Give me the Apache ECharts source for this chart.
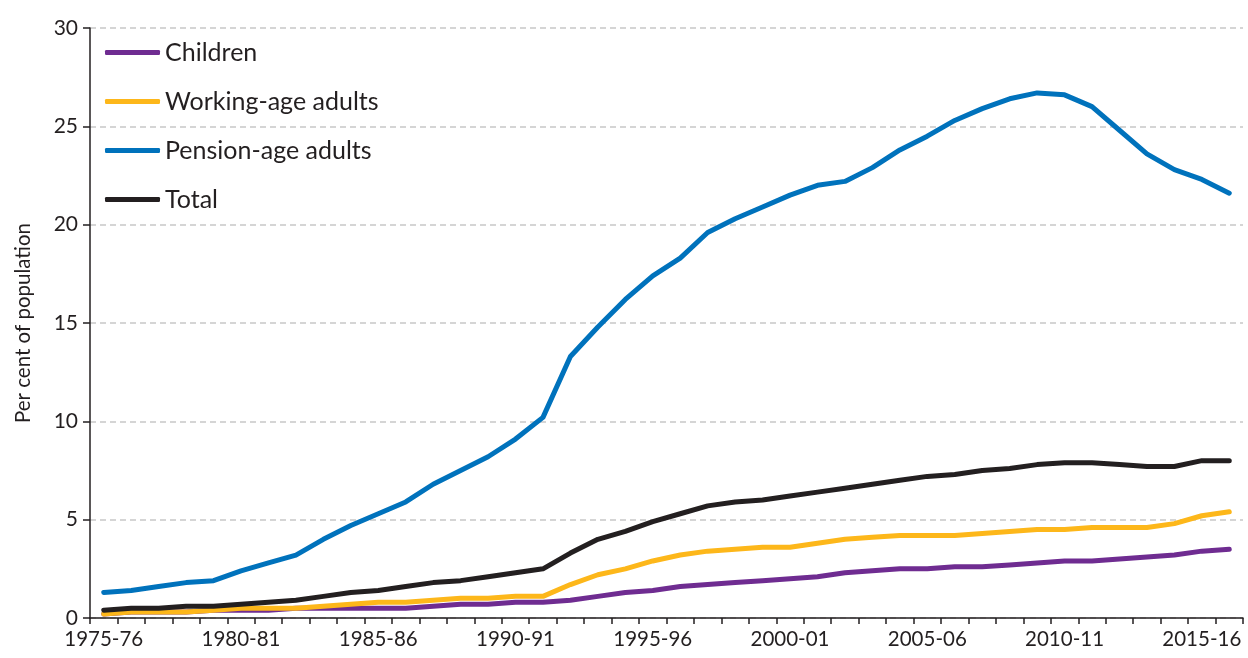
<!DOCTYPE html>
<html>
<head>
<meta charset="utf-8">
<script src="https://cdn.jsdelivr.net/npm/echarts@6/dist/echarts.min.js"></script>
<style>html,body{margin:0;padding:0;background:#fff}#c{width:1248px;height:658px}</style>
</head>
<body>
<div id="c"></div>
<script>
const years = [];
for (let y = 1975; y <= 2016; y++) years.push(y + '-' + String((y + 1) % 100).padStart(2, '0'));

const children = [0.2,0.3,0.3,0.3,0.4,0.4,0.4,0.5,0.5,0.5,0.5,0.5,0.6,0.7,0.7,0.8,0.8,0.9,1.1,1.3,1.4,1.6,1.7,1.8,1.9,2.0,2.1,2.3,2.4,2.5,2.5,2.6,2.6,2.7,2.8,2.9,2.9,3.0,3.1,3.2,3.4,3.5];
const working = [0.2,0.3,0.3,0.3,0.4,0.5,0.5,0.5,0.6,0.7,0.8,0.8,0.9,1.0,1.0,1.1,1.1,1.7,2.2,2.5,2.9,3.2,3.4,3.5,3.6,3.6,3.8,4.0,4.1,4.2,4.2,4.2,4.3,4.4,4.5,4.5,4.6,4.6,4.6,4.8,5.2,5.4];
const pension = [1.3,1.4,1.6,1.8,1.9,2.4,2.8,3.2,4.0,4.7,5.3,5.9,6.8,7.5,8.2,9.1,10.2,13.3,14.8,16.2,17.4,18.3,19.6,20.3,20.9,21.5,22.0,22.2,22.9,23.8,24.5,25.3,25.9,26.4,26.7,26.6,26.0,24.8,23.6,22.8,22.3,21.6];
const total = [0.4,0.5,0.5,0.6,0.6,0.7,0.8,0.9,1.1,1.3,1.4,1.6,1.8,1.9,2.1,2.3,2.5,3.3,4.0,4.4,4.9,5.3,5.7,5.9,6.0,6.2,6.4,6.6,6.8,7.0,7.2,7.3,7.5,7.6,7.8,7.9,7.9,7.8,7.7,7.7,8.0,8.0];
const yTicks = [0, 5, 10, 15, 20, 25, 30];

const FONT = 'Lato';
const chart = echarts.init(document.getElementById('c'), null, {renderer: 'canvas'});
function mk(name, data, color) {
  return {name, type: 'line', data, showSymbol: false, symbol: 'none', smooth: false,
    lineStyle: {color, width: 5, cap: 'round', join: 'round'}, itemStyle: {color}, z: 3};
}
chart.setOption({
  animation: false,
  textStyle: {fontFamily: FONT},
  grid: {left: 90, right: 5, top: 28, bottom: 40, containLabel: false},
  legend: {
    orient: 'vertical', left: 100, top: 35, itemWidth: 55, itemHeight: 5, itemGap: 24,
    icon: 'roundRect',
    textStyle: {fontFamily: FONT, fontSize: 25, color: '#231F20', lineHeight: 25},
    data: ['Children', 'Working-age adults', 'Pension-age adults', 'Total']
  },
  xAxis: {
    type: 'category', data: years, boundaryGap: true,
    axisLine: {lineStyle: {color: '#231F20', width: 1.5}},
    axisTick: {show: true, interval: 0, length: 6, lineStyle: {color: '#231F20', width: 1.5}},
    axisLabel: {interval: 4, fontSize: 20.5, color: '#231F20', margin: 11, fontFamily: FONT},
    splitLine: {show: false}
  },
  yAxis: {
    type: 'value', min: 0, max: 30, interval: 5,
    name: 'Per cent of population', nameLocation: 'middle', nameGap: 56, nameRotate: 90,
    nameTextStyle: {fontSize: 20.5, color: '#231F20', fontFamily: FONT},
    axisLine: {show: true, lineStyle: {color: '#231F20', width: 1.5}},
    axisTick: {show: true, length: 7, lineStyle: {color: '#231F20', width: 1.5}},
    axisLabel: {fontSize: 21, color: '#231F20', margin: 12, fontFamily: FONT,
      formatter: v => yTicks.includes(v) ? String(v) : ''},
    splitLine: {show: true, lineStyle: {color: '#C8C8C8', type: [6, 4], width: 1.5}}
  },
  series: [
    mk('Children', children, '#6F2C91'),
    mk('Working-age adults', working, '#FDB71A'),
    mk('Pension-age adults', pension, '#0072BC'),
    mk('Total', total, '#231F20')
  ]
});
</script>
</body>
</html>
